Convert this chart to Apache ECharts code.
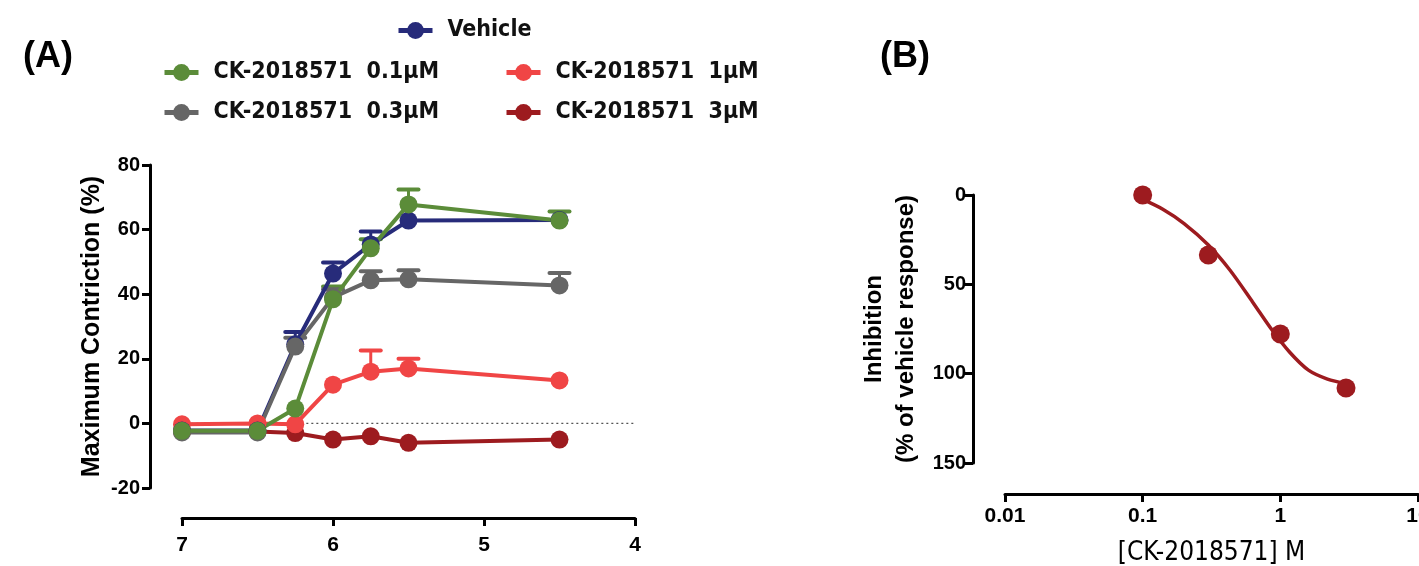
<!DOCTYPE html>
<html><head><meta charset="utf-8">
<script src="https://cdn.jsdelivr.net/npm/echarts@6/dist/echarts.min.js"></script>
<style>html,body{margin:0;padding:0;background:#fff}#c{width:1419px;height:566px}</style>
</head><body><div id="c"></div>
<script>
// ---- Panel A data: -log[agonist] (x), Maximum contriction % ----
const logConc = [7, 6.5, 6.25, 6, 5.75, 5.5, 4.5];
const vehicle    = [-2.2, -2.2, 24.5, 46.4, 55.4, 62.8, 63.0];
const vehicleErr = [0, 0, 3.8, 3.4, 4.0, 0, 0];
const ck01    = [-2.3, -2.3, 4.6, 38.4, 54.2, 67.8, 62.8];
const ck01Err = [0, 0, 0, 4.0, 2.8, 4.6, 2.8];
const ck03    = [-2.8, -2.8, 23.8, 39.0, 44.3, 44.6, 42.7];
const ck03Err = [0, 0, 2.7, 2.5, 2.8, 2.8, 3.9];
const ck1     = [-0.3, 0.0, -0.3, 12.0, 16.0, 17.0, 13.3];
const ck1Err  = [0, 0, 0, 0, 6.6, 3.0, 0];
const ck3     = [-2.5, -2.5, -3.0, -5.0, -4.0, -6.0, -5.0];
const ck3Err  = [0, 0, 0, 0, 0, 0, 0];
const zeroLineX = [7.17, 4];
const xTicksA = [4, 5, 6, 7];

// ---- Panel B data ----
const inhConc = [0.1, 0.3, 1, 3];
const inhibition = [0, 33.6, 77.8, 108];
const fitConc = [0.1, 0.14, 0.2, 0.3, 0.43, 0.63, 0.86, 1.17, 1.6, 2.2, 3.0];
const fitInh  = [2.5, 8, 16, 28, 42, 60, 75, 88, 98, 103, 105.5];

const names = ['Vehicle', 'CK-2018571  0.1\u03bcM', 'CK-2018571  0.3\u03bcM', 'CK-2018571  1\u03bcM', 'CK-2018571  3\u03bcM'];
const colors = ['#272b7a', '#5b8c39', '#666666', '#f04545', '#9d1b1f'];

const FC = '"DejaVu Sans Condensed", "Liberation Sans Narrow", sans-serif';
const FA = '"Liberation Sans", Arial, sans-serif';

function lineSeries(idx, vals) {
  return {
    name: names[idx], type: 'line', xAxisIndex: 0, yAxisIndex: 0,
    data: logConc.map((x, i) => [x, vals[i]]),
    symbol: 'circle', symbolSize: 18, clip: false,
    lineStyle: { width: 4, color: colors[idx] },
    itemStyle: { color: colors[idx] },
    emphasis: { disabled: true }, z: 3
  };
}
function errSeries(idx, vals, errs) {
  const color = colors[idx];
  return {
    type: 'custom', xAxisIndex: 0, yAxisIndex: 0, silent: true, z: 2, clip: false,
    data: logConc.map((x, i) => [x, vals[i], errs[i]]).filter(d => d[2] > 0),
    encode: { x: 0, y: 1 },
    renderItem: function (params, api) {
      const x = api.value(0), y = api.value(1), e = api.value(2);
      const p0 = api.coord([x, y]), p1 = api.coord([x, y + e]);
      return { type: 'group', children: [
        { type: 'line', shape: { x1: p0[0], y1: p0[1], x2: p1[0], y2: p1[1] }, style: { stroke: color, lineWidth: 3 } },
        { type: 'line', shape: { x1: p1[0] - 10, y1: p1[1], x2: p1[0] + 10, y2: p1[1] }, style: { stroke: color, lineWidth: 4, lineCap: 'round' } }
      ]};
    }
  };
}

const legendCommon = {
  itemWidth: 34, itemHeight: 21, selectedMode: false, orient: 'horizontal',
  lineStyle: { width: 5 },
  textStyle: { fontFamily: FC, fontSize: 23, fontWeight: 'bold', color: '#111', padding: [0, 0, 0, 10] }
};
const axisLineStyle = { show: true, onZero: false, lineStyle: { color: '#000', width: 3 } };
const tickStyle = { show: true, length: 8, lineStyle: { color: '#000', width: 3 } };
const labelStyle = { fontFamily: FA, fontSize: 20, fontWeight: 'bold', color: '#000' };

const option = {
  animation: false,
  backgroundColor: '#fff',
  title: [
    { text: '(A)', left: 18, top: 34, textStyle: { fontFamily: FA, fontSize: 36, fontWeight: 'bold', color: '#000' } },
    { text: '(B)', left: 875, top: 34, textStyle: { fontFamily: FA, fontSize: 36, fontWeight: 'bold', color: '#000' } }
  ],
  legend: [
    Object.assign({ data: [names[0]], left: 391, top: 14 }, legendCommon),
    Object.assign({ data: [names[1]], left: 157, top: 56 }, legendCommon),
    Object.assign({ data: [names[2]], left: 157, top: 96 }, legendCommon),
    Object.assign({ data: [names[3]], left: 499, top: 56 }, legendCommon),
    Object.assign({ data: [names[4]], left: 499, top: 96 }, legendCommon)
  ],
  grid: [
    { left: 182, top: 165, width: 453, height: 323, containLabel: false, outerBoundsMode: 'none' },
    { left: 1005, top: 195, width: 413, height: 268, containLabel: false, outerBoundsMode: 'none' }
  ],
  xAxis: [
    { gridIndex: 0, type: 'value', min: xTicksA[0], max: xTicksA[3], interval: 1, inverse: true, offset: 30,
      axisLine: axisLineStyle, axisTick: tickStyle, splitLine: { show: false },
      axisLabel: Object.assign({ margin: 17 }, labelStyle, { fontSize: 21 }) },
    { gridIndex: 1, type: 'log', logBase: 10, min: 0.01, max: 10, offset: 31,
      axisLine: axisLineStyle, axisTick: tickStyle, splitLine: { show: false },
      axisLabel: Object.assign({ margin: 12, hideOverlap: false, formatter: v => String(Number(Number(v).toPrecision(3))) }, labelStyle, { fontSize: 21 }),
      name: '[CK-2018571] M', nameLocation: 'middle', nameGap: 46,
      nameTextStyle: { fontFamily: FC, fontSize: 26, color: '#000' } }
  ],
  yAxis: [
    { gridIndex: 0, type: 'value', min: -20, max: 80, interval: 20, offset: 32,
      axisLine: axisLineStyle, axisTick: tickStyle, splitLine: { show: false },
      axisLabel: Object.assign({ margin: 10 }, labelStyle),
      name: 'Maximum Contriction (%)', nameLocation: 'middle', nameGap: 45,
      nameTextStyle: { fontFamily: FA, fontSize: 25, fontWeight: 'bold', color: '#000' } },
    { gridIndex: 1, type: 'value', inverse: true, min: 0, max: 150, interval: 50, offset: 32,
      axisLine: axisLineStyle, axisTick: tickStyle, splitLine: { show: false },
      axisLabel: Object.assign({ margin: 7 }, labelStyle),
      name: 'Inhibition\n(% of vehicle response)', nameLocation: 'middle', nameGap: 51,
      nameTextStyle: { fontFamily: FA, fontSize: 24, fontWeight: 'bold', color: '#000', lineHeight: 32 } }
  ],
  series: [
    { type: 'line', xAxisIndex: 0, yAxisIndex: 0, silent: true, symbol: 'none', z: 1, clip: false,
      data: zeroLineX.map(x => [x, 0]), lineStyle: { type: [2, 3], color: '#555', width: 1.3 } },
    errSeries(0, vehicle, vehicleErr),
    errSeries(1, ck01, ck01Err),
    errSeries(2, ck03, ck03Err),
    errSeries(3, ck1, ck1Err),
    errSeries(4, ck3, ck3Err),
    lineSeries(4, ck3),
    lineSeries(3, ck1),
    lineSeries(0, vehicle),
    lineSeries(2, ck03),
    lineSeries(1, ck01),
    { type: 'line', xAxisIndex: 1, yAxisIndex: 1, smooth: 0.3, symbol: 'none', silent: true,
      data: fitConc.map((x, i) => [x, fitInh[i]]), lineStyle: { color: '#9d1b1f', width: 3.5 }, z: 2 },
    { type: 'scatter', xAxisIndex: 1, yAxisIndex: 1, symbolSize: 19, clip: false,
      data: inhConc.map((x, i) => [x, inhibition[i]]), itemStyle: { color: '#9d1b1f', opacity: 1 }, z: 3 }
  ]
};
const chart = echarts.init(document.getElementById('c'), null, { renderer: 'canvas' });
chart.setOption(option);
</script>
</body></html>
